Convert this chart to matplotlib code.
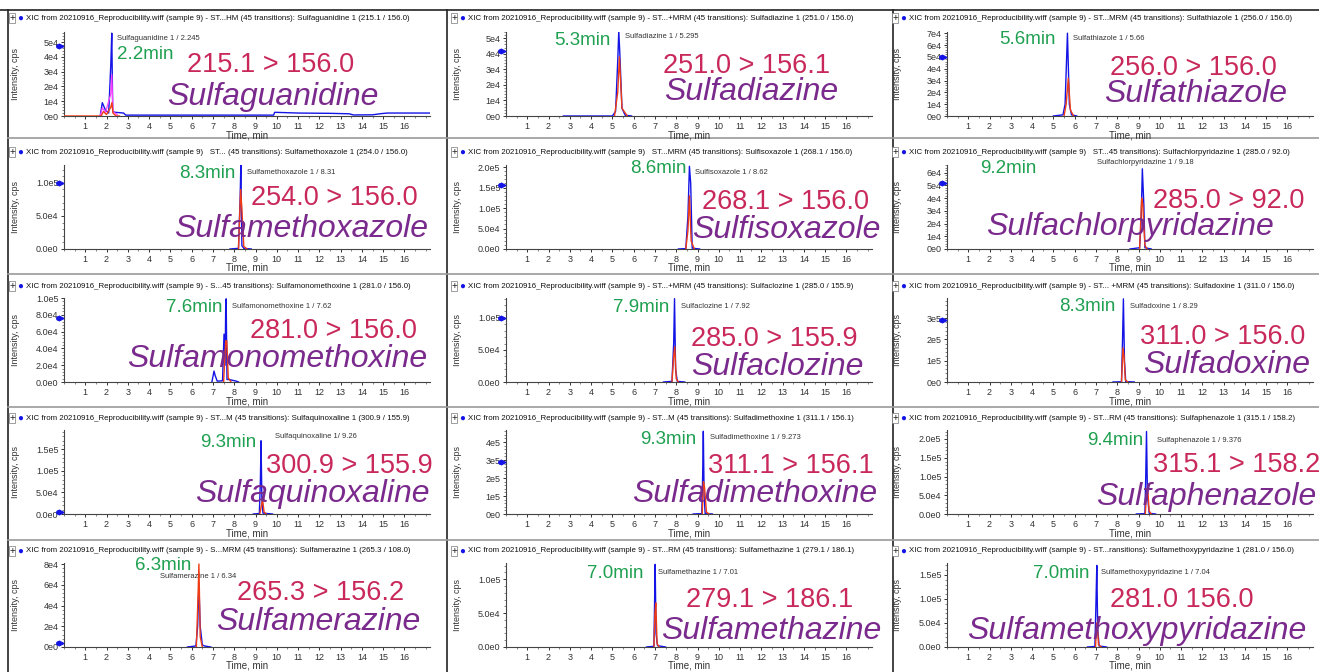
import matplotlib
matplotlib.use('Agg')
import matplotlib.pyplot as plt
from matplotlib.lines import Line2D
from matplotlib.ticker import MultipleLocator, AutoMinorLocator

W, H = 1319, 672

# ---- data ----
compounds = ['Sulfaguanidine', 'Sulfadiazine', 'Sulfathiazole',
             'Sulfamethoxazole', 'Sulfisoxazole', 'Sulfachlorpyridazine',
             'Sulfamonomethoxine', 'Sulfaclozine', 'Sulfadoxine',
             'Sulfaquinoxaline', 'Sulfadimethoxine', 'Sulfaphenazole',
             'Sulfamerazine', 'Sulfamethazine', 'Sulfamethoxypyridazine']
transitions = ['215.1 > 156.0', '251.0 > 156.1', '256.0 > 156.0',
               '254.0 > 156.0', '268.1 > 156.0', '285.0 > 92.0',
               '281.0 > 156.0', '285.0 > 155.9', '311.0 > 156.0',
               '300.9 > 155.9', '311.1 > 156.1', '315.1 > 158.2',
               '265.3 > 156.2', '279.1 > 186.1', '281.0 156.0']
rt_text = ['2.2min', '5.3min', '5.6min', '8.3min', '8.6min', '9.2min',
           '7.6min', '7.9min', '8.3min', '9.3min', '9.3min', '9.4min',
           '6.3min', '7.0min', '7.0min']
apex_rt = [2.245, 5.295, 5.66, 8.31, 8.62, 9.18, 7.62, 7.92, 8.29,
           9.26, 9.273, 9.376, 6.34, 7.01, 7.04]
apex_labels = ['Sulfaguanidine 1 / 2.245', 'Sulfadiazine 1 / 5.295',
               'Sulfathiazole 1 / 5.66', 'Sulfamethoxazole 1 / 8.31',
               'Sulfisoxazole 1 / 8.62', 'Sulfachlorpyridazine 1 / 9.18',
               'Sulfamonomethoxine 1 / 7.62', 'Sulfaclozine 1 / 7.92',
               'Sulfadoxine 1 / 8.29', 'Sulfaquinoxaline 1/ 9.26',
               'Sulfadimethoxine 1 / 9.273', 'Sulfaphenazole 1 / 9.376',
               'Sulfamerazine 1 / 6.34', 'Sulfamethazine 1 / 7.01',
               'Sulfamethoxypyridazine 1 / 7.04']
headers = [
    'XIC from 20210916_Reproducibility.wiff (sample 9) - ST...HM (45 transitions): Sulfaguanidine 1 (215.1 / 156.0)',
    'XIC from 20210916_Reproducibility.wiff (sample 9) - ST...+MRM (45 transitions): Sulfadiazine 1 (251.0 / 156.0)',
    'XIC from 20210916_Reproducibility.wiff (sample 9) - ST...MRM (45 transitions): Sulfathiazole 1 (256.0 / 156.0)',
    'XIC from 20210916_Reproducibility.wiff (sample 9)   ST... (45 transitions): Sulfamethoxazole 1 (254.0 / 156.0)',
    'XIC from 20210916_Reproducibility.wiff (sample 9)   ST...MRM (45 transitions): Sulfisoxazole 1 (268.1 / 156.0)',
    'XIC from 20210916_Reproducibility.wiff (sample 9)   ST...45 transitions): Sulfachlorpyridazine 1 (285.0 / 92.0)',
    'XIC from 20210916_Reproducibility.wiff (sample 9) - S...45 transitions): Sulfamonomethoxine 1 (281.0 / 156.0)',
    'XIC from 20210916_Reproducibility.wiff (sample 9) - ST...+MRM (45 transitions): Sulfaclozine 1 (285.0 / 155.9)',
    'XIC from 20210916_Reproducibility.wiff (sample 9) - ST... +MRM (45 transitions): Sulfadoxine 1 (311.0 / 156.0)',
    'XIC from 20210916_Reproducibility.wiff (sample 9) - ST...M (45 transitions): Sulfaquinoxaline 1 (300.9 / 155.9)',
    'XIC from 20210916_Reproducibility.wiff (sample 9) - ST...M (45 transitions): Sulfadimethoxine 1 (311.1 / 156.1)',
    'XIC from 20210916_Reproducibility.wiff (sample 9) - ST...RM (45 transitions): Sulfaphenazole 1 (315.1 / 158.2)',
    'XIC from 20210916_Reproducibility.wiff (sample 9) - S...MRM (45 transitions): Sulfamerazine 1 (265.3 / 108.0)',
    'XIC from 20210916_Reproducibility.wiff (sample 9) - ST...RM (45 transitions): Sulfamethazine 1 (279.1 / 186.1)',
    'XIC from 20210916_Reproducibility.wiff (sample 9) - ST...ransitions): Sulfamethoxypyridazine 1 (281.0 / 156.0)',
]
ymax = [5.68e4, 5.4e4, 7.1e4, 1.27e5, 2.05e5, 6.6e4, 1.0e5, 1.31e5, 3.94e5,
        1.95e5, 4.67e5, 2.24e5, 8.1e4, 1.24e5, 1.75e5]
yticks = [[0, 1e4, 2e4, 3e4, 4e4, 5e4], [0, 1e4, 2e4, 3e4, 4e4, 5e4],
          [0, 1e4, 2e4, 3e4, 4e4, 5e4, 6e4, 7e4],
          [0, 5e4, 1e5], [0, 5e4, 1e5, 1.5e5, 2e5],
          [0, 1e4, 2e4, 3e4, 4e4, 5e4, 6e4],
          [0, 2e4, 4e4, 6e4, 8e4, 1e5], [0, 5e4, 1e5], [0, 1e5, 2e5, 3e5],
          [0, 5e4, 1e5, 1.5e5], [0, 1e5, 2e5, 3e5, 4e5],
          [0, 5e4, 1e5, 1.5e5, 2e5],
          [0, 2e4, 4e4, 6e4, 8e4], [0, 5e4, 1e5], [0, 5e4, 1e5, 1.5e5]]
ytick_labels = [['0e0', '1e4', '2e4', '3e4', '4e4', '5e4'],
                ['0e0', '1e4', '2e4', '3e4', '4e4', '5e4'],
                ['0e0', '1e4', '2e4', '3e4', '4e4', '5e4', '6e4', '7e4'],
                ['0.0e0', '5.0e4', '1.0e5'],
                ['0.0e0', '5.0e4', '1.0e5', '1.5e5', '2.0e5'],
                ['0e0', '1e4', '2e4', '3e4', '4e4', '5e4', '6e4'],
                ['0.0e0', '2.0e4', '4.0e4', '6.0e4', '8.0e4', '1.0e5'],
                ['0.0e0', '5.0e4', '1.0e5'],
                ['0e0', '1e5', '2e5', '3e5'],
                ['0.0e0', '5.0e4', '1.0e5', '1.5e5'],
                ['0e0', '1e5', '2e5', '3e5', '4e5'],
                ['0.0e0', '5.0e4', '1.0e5', '1.5e5', '2.0e5'],
                ['0e0', '2e4', '4e4', '6e4', '8e4'],
                ['0.0e0', '5.0e4', '1.0e5'],
                ['0.0e0', '5.0e4', '1.0e5', '1.5e5']]

# chromatogram traces (time, min / intensity, cps)
blue_t = [
    [1.7, 1.8, 1.95, 2.1, 2.2, 2.245, 2.29, 2.4, 2.8, 2.9, 9.85, 9.9, 11.0, 12.5, 13.4, 13.6, 14.5, 14.9, 15.2, 17.2],
    [2.7, 5.0, 5.15, 5.25, 5.3, 5.35, 5.45, 5.6, 5.9],
    [5.0, 5.45, 5.55, 5.66, 5.75, 5.85, 6.1],
    [7.8, 8.2, 8.28, 8.31, 8.36, 8.45, 8.8],
    [8.1, 8.45, 8.55, 8.62, 8.68, 8.75, 9.1],
    [8.6, 9.05, 9.12, 9.18, 9.25, 9.3, 9.6],
    [6.95, 7.05, 7.1, 7.2, 7.45, 7.52, 7.57, 7.6, 7.62, 7.66, 7.75, 8.1, 8.2],
    [7.4, 7.8, 7.88, 7.92, 7.97, 8.05, 8.4],
    [7.8, 8.2, 8.25, 8.29, 8.34, 8.4, 8.8],
    [8.9, 9.18, 9.23, 9.26, 9.3, 9.35, 9.8],
    [8.8, 9.2, 9.24, 9.273, 9.31, 9.36, 9.7],
    [8.9, 9.3, 9.34, 9.376, 9.42, 9.5, 9.8],
    [5.8, 6.2, 6.28, 6.34, 6.4, 6.5, 6.6, 6.9],
    [6.6, 6.95, 6.98, 7.01, 7.05, 7.12, 7.5],
    [6.6, 6.95, 7.0, 7.04, 7.08, 7.15, 7.5],
]
blue_v = [
    [0, 9e3, 4e3, 2e3, 3.5e4, 5.6e4, 3e3, 2.5e3, 2e3, 6e2, 6e2, 2.5e3, 2e3, 1.8e3, 1.5e3, 7e2, 8e2, 1.6e3, 2e3, 2e3],
    [0, 0, 3e3, 3.5e4, 5.47e4, 4e4, 5e3, 5e2, 0],
    [0, 1e3, 1e4, 7.0e4, 1e4, 1e3, 0],
    [0, 1e3, 8e4, 1.27e5, 5e3, 1e3, 0],
    [0, 1e3, 8e4, 2.02e5, 1.6e5, 2e3, 0],
    [0, 1e3, 2e4, 6.3e4, 3.5e4, 1e3, 0],
    [0, 1.3e4, 8e3, 1e3, 1.5e3, 5.7e4, 2e4, 9.0e4, 9.9e4, 3e3, 3e3, 1e3, 0],
    [0, 1e3, 6e4, 1.3e5, 2e4, 1e3, 0],
    [0, 1e3, 2e5, 3.9e5, 1e5, 2e3, 0],
    [0, 1e3, 8e4, 1.7e5, 3e4, 2e3, 0],
    [0, 2e3, 2e5, 4.6e5, 1e5, 2e3, 0],
    [0, 1e3, 1e5, 2.2e5, 5e4, 2e3, 0],
    [0, 1e3, 2e4, 6.1e4, 2e4, 2e3, 1e3, 0],
    [0, 1e3, 6e4, 1.22e5, 2e4, 2e3, 0],
    [0, 1e3, 9e4, 1.7e5, 4e4, 2e3, 0],
]
red_t = [
    [0, 1.75, 1.85, 2.0, 2.2, 2.25, 2.3, 2.45, 2.6],
    [5.1, 5.25, 5.33, 5.45, 5.7],
    [5.5, 5.6, 5.7, 5.8, 5.95],
    [8.2, 8.3, 8.36, 8.45, 8.6],
    [8.45, 8.55, 8.62, 8.7, 8.85],
    [9.05, 9.15, 9.2, 9.3, 9.4],
    [7.5, 7.6, 7.65, 7.72, 7.85],
    [7.8, 7.88, 7.93, 8.0, 8.1],
    [8.2, 8.27, 8.32, 8.38, 8.5],
    [9.2, 9.28, 9.33, 9.4, 9.5],
    [9.22, 9.28, 9.33, 9.42, 9.55],
    [9.32, 9.38, 9.43, 9.5, 9.6],
    [6.22, 6.3, 6.34, 6.4, 6.5],
    [6.95, 7.0, 7.04, 7.1, 7.2],
    [6.98, 7.03, 7.07, 7.12, 7.25],
]
red_v = [
    [0, 0, 3e3, 1e3, 6e3, 9e3, 2e3, 0, 0],
    [0, 1.5e4, 3.8e4, 5e3, 0],
    [0, 1e4, 3.2e4, 5e3, 0],
    [0, 9e4, 6e4, 4e3, 0],
    [0, 4.5e4, 1.3e5, 2e4, 0],
    [0, 4e4, 3.5e4, 3e3, 0],
    [0, 4.9e4, 4.9e4, 5e3, 0],
    [0, 4e4, 5.5e4, 5e3, 0],
    [0, 1.6e5, 1.2e5, 1e4, 0],
    [0, 2e4, 3.5e4, 5e3, 0],
    [0, 1.8e5, 1.5e5, 1e4, 0],
    [0, 6e4, 7e4, 8e3, 0],
    [0, 5e4, 8e4, 1e4, 0],
    [0, 5e4, 6.5e4, 5e3, 0],
    [0, 5e4, 4e4, 5e3, 0],
]
# third (magenta) trace only visible in the first panel
pink_t = [1.7, 1.8, 1.95, 2.2, 2.245, 2.3, 2.5]
pink_v = [0, 5.5e3, 2.5e3, 1.5e4, 2.8e4, 3e3, 1e3]
# threshold arrows on the intensity axis (None = not visible)
threshold = [4.7e4, 4.2e4, 5.0e4, 1.0e5, 1.55e5, 5.2e4, 7.6e4, 1.0e5, 2.9e5,
             4e3, 2.9e5, None, 4e3, None, None]
time_ticks = list(range(1, 17))

# ---- layout (pixels of the 1319x672 picture) ----
col_left = [64, 506, 947]
row_bottom = [116, 249, 382, 514, 647]
row_header = [18, 152, 286, 418, 551]
ax_w, ax_h = 366, 84
green_pos = [(145, 59), (582, 45), (1027, 44), (207, 178), (658, 173), (1008, 173),
             (194, 312), (641, 312), (1087, 311), (228, 447), (668, 444), (1115, 445),
             (163, 570), (615, 578), (1061, 578)]
trans_pos = [(271, 72), (747, 73), (1193, 75), (334, 205), (785, 209), (1229, 208),
             (333, 338), (774, 346), (1223, 344), (349, 473), (791, 473), (1237, 472),
             (321, 600), (770, 607), (1182, 607)]
name_pos = [(273, 105), (751, 100), (1196, 102), (301, 237), (786, 238), (1130, 235),
            (277, 367), (777, 375), (1227, 373), (312, 502), (755, 502), (1206, 505),
            (318, 630), (771, 639), (1137, 639)]
apex_off = [(5, -7), (6, -4), (6, -6), (6, -7), (6, -7), (3, 2),
            (6, -8), (6, -8), (7, -8), (14, -7), (7, -8), (10, -10),
            (-39, -13), (3, -9), (4, -9)]

BLUE = '#1414e6'
RED = '#f03c14'
CRIMSON = '#c8285a'
PURPLE = '#7a2a8c'
GREEN = '#1fa050'
SANS = ['Liberation Sans', 'DejaVu Sans']

plt.rcParams['font.family'] = SANS

fig = plt.figure(figsize=(W / 100, H / 100), dpi=100)


def fx(x):
    return x / W


def fy(y):
    return 1 - y / H


for i in range(15):
    r, c = divmod(i, 3)
    cl = col_left[c]
    bot = row_bottom[r]
    ax = fig.add_axes([fx(cl), fy(bot), ax_w / W, ax_h / H])
    ax.plot(blue_t[i], blue_v[i], color=BLUE, lw=1.0, zorder=3)
    ax.plot(red_t[i], red_v[i], color=RED, lw=1.0, zorder=4)
    if i == 0:
        ax.plot(pink_t, pink_v, color='#ff40ff', lw=0.9, zorder=3)
    ax.set_xlim(0, 17.2)
    ax.set_ylim(0, ymax[i])
    ax.set_xticks(time_ticks)
    ax.xaxis.set_minor_locator(MultipleLocator(0.5))
    ax.set_yticks(yticks[i], ytick_labels[i])
    ax.yaxis.set_minor_locator(AutoMinorLocator(5))
    ax.tick_params(axis='both', which='major', length=2.5, width=0.7,
                   labelsize=6.5, colors='#333333', pad=1.5)
    ax.tick_params(axis='both', which='minor', length=1.5, width=0.5, colors='#555555')
    for s in ['top', 'right']:
        ax.spines[s].set_visible(False)
    for s in ['left', 'bottom']:
        ax.spines[s].set_color('#444444')
        ax.spines[s].set_linewidth(0.8)
    if threshold[i] is not None:
        ax.plot([-0.12], [threshold[i]], marker='>', ms=3.5, color=BLUE,
                clip_on=False, zorder=5)
        ax.plot([-0.3], [threshold[i]], marker='o', ms=2.5, color=BLUE,
                clip_on=False, zorder=5)

    # apex annotation
    dx, dy = apex_off[i]
    ax.annotate(apex_labels[i], xy=(apex_rt[i], ymax[i]), xytext=(dx, dy),
                textcoords='offset pixels', fontsize=5.5, color='#333333',
                ha='center' if i == 5 else 'left', va='center',
                annotation_clip=False)

    # axis labels
    fig.text(fx(cl + ax_w / 2), fy(bot + 19), 'Time, min', fontsize=7,
             color='#333333', ha='center', va='center')
    fig.text(fx(cl - 49), fy(bot - ax_h / 2), 'Intensity, cps', fontsize=6.5,
             color='#333333', ha='center', va='center', rotation=90)

    # header line
    hy = row_header[r]
    fig.text(fx(cl - 52), fy(hy), '+', fontsize=7, color='#222222',
             ha='center', va='center',
             bbox=dict(boxstyle='square,pad=0.05', fc='white', ec='#777777', lw=0.5))
    fig.text(fx(cl - 44), fy(hy), '\u25cf', fontsize=7, color=BLUE,
             ha='center', va='center')
    fig.text(fx(cl - 38), fy(hy), headers[i], fontsize=5.7, color='#111111',
             ha='left', va='center')

    # overlay labels
    gx, gy = green_pos[i]
    fig.text(fx(gx), fy(gy), rt_text[i], fontsize=13.5, color=GREEN,
             ha='center', va='baseline')
    tx, ty = trans_pos[i]
    fig.text(fx(tx), fy(ty), transitions[i], fontsize=19.5, color=CRIMSON,
             ha='center', va='baseline')
    nx, ny = name_pos[i]
    fig.text(fx(nx), fy(ny), compounds[i], fontsize=23, color=PURPLE,
             ha='center', va='baseline', style='italic')

# panel frame lines
for x in [8, 447, 893]:
    fig.add_artist(Line2D([fx(x), fx(x)], [fy(10), fy(672)], color='#222222', lw=1.2))
fig.add_artist(Line2D([0, 1], [fy(10), fy(10)], color='#222222', lw=1.2))
for y in [138, 274, 407, 540]:
    fig.add_artist(Line2D([fx(8), 1], [fy(y), fy(y)], color='#9a9a9a', lw=1.2))

fig.savefig('out.png', dpi=100, facecolor='white')
